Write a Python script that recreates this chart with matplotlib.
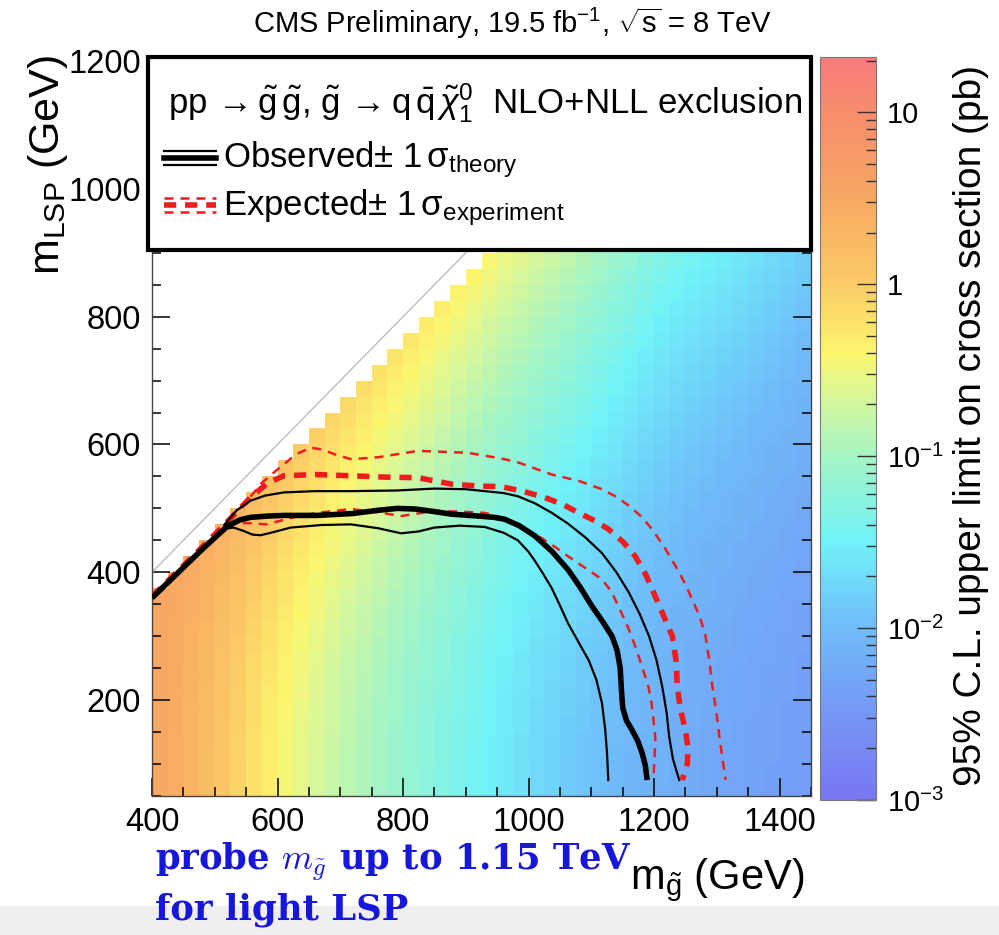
import numpy as np
import matplotlib
matplotlib.use("Agg")
import matplotlib.pyplot as plt
from matplotlib.colors import LinearSegmentedColormap, LogNorm
from matplotlib.patches import Rectangle
from matplotlib.ticker import MultipleLocator, FixedLocator, FixedFormatter, LogLocator

plt.rcParams['font.family'] = ['Liberation Sans', 'DejaVu Sans']
plt.rcParams['mathtext.fontset'] = 'custom'
plt.rcParams['mathtext.rm'] = 'Liberation Sans'
plt.rcParams['mathtext.it'] = 'Liberation Sans:italic'
plt.rcParams['mathtext.bf'] = 'Liberation Sans:bold'
plt.rcParams['mathtext.sf'] = 'Liberation Sans'

## scan binning (25 GeV cells) ##
x_edges = np.arange(400, 1451, 25)
y_edges = np.arange(50, 1201, 25)

# log10 of the 95% CL limit (pb) in each gluino column, at the lowest LSP mass
base_log = [0.50, 0.42, 0.32, 0.20, 0.06, -0.08, -0.22, -0.34, -0.45, -0.56,
            -0.66, -0.76, -0.85, -0.93, -1.01, -1.09, -1.16, -1.23, -1.30, -1.37,
            -1.44, -1.51, -1.58, -1.65, -1.72, -1.78, -1.84, -1.90, -1.96, -2.01,
            -2.06, -2.10, -2.14, -2.18, -2.22, -2.25, -2.28, -2.31, -2.34, -2.36,
            -2.38, -2.40]
# log10 of the limit at the top of each column (diagonal, or mLSP = 900 GeV)
top_log = [0.55, 0.50, 0.45, 0.40, 0.34, 0.27, 0.20, 0.12, 0.05, 0.00,
           -0.05, -0.10, -0.14, -0.18, -0.22, -0.25, -0.28, -0.31, -0.34, -0.37,
           -0.40, -0.43, -0.49, -0.56, -0.65, -0.72, -0.80, -0.88, -0.97, -1.06,
           -1.15, -1.24, -1.32, -1.38, -1.43, -1.48, -1.53, -1.58, -1.64, -1.70,
           -1.76, -1.82]

## exclusion contours (GeV) ##
obs_x = [400, 440, 480, 520, 540, 557, 585, 610, 663, 720, 760, 791, 820, 850,
         877, 920, 945, 962, 985, 1010, 1037, 1063, 1082, 1101, 1118, 1133,
         1141, 1146, 1148, 1150, 1156, 1165, 1174, 1181, 1186, 1189]
obs_y = [360, 398, 436, 472, 482, 486, 488, 489, 489, 492, 497, 500, 499, 495,
         491, 488, 486, 483, 473, 457, 433, 404, 377, 347, 323, 300,
         278, 250, 215, 188, 168, 153, 136, 117, 98, 75]
obs_up_x = [515, 535, 557, 580, 610, 660, 717, 790, 850, 900, 930, 960, 983,
            1010, 1037, 1063, 1090, 1117, 1140, 1160, 1177, 1192, 1204, 1213,
            1220, 1224, 1230, 1240]
obs_up_y = [474, 497, 512, 520, 525, 527, 527, 528, 531, 530, 527, 524, 519,
            508, 493, 476, 455, 430, 400, 368, 335, 300, 262, 221,
            180, 143, 108, 75]
obs_dn_x = [515, 530, 545, 560, 573, 590, 621, 670, 717, 760, 797, 825, 850,
            890, 930, 960, 983, 1000, 1010, 1023, 1037, 1050, 1063, 1080, 1096,
            1108, 1117, 1122, 1125, 1127]
obs_dn_y = [468, 470, 465, 459, 458, 462, 470, 474, 475, 469, 461, 464, 470,
            473, 471, 462, 450, 432, 418, 398, 375, 348, 320, 290, 262,
            232, 195, 155, 117, 75]

exp_x = [400, 460, 519, 540, 560, 585, 610, 660, 717, 770, 824, 877, 920, 957,
         990, 1026, 1055, 1080, 1105, 1128, 1150, 1170, 1187, 1202, 1216, 1229,
         1235, 1237, 1242, 1250, 1254, 1253, 1245]
exp_y = [362, 420, 478, 500, 520, 540, 551, 553, 551, 549, 548, 538, 535, 534,
         527, 517, 506, 493, 481, 467, 448, 425, 396, 362, 330, 300,
         262, 221, 185, 153, 125, 101, 75]
exp_dn_x = [519, 551, 583, 625, 663, 717, 760, 797, 850, 890, 930, 960, 983,
            1010, 1036, 1063, 1090, 1117, 1132, 1143, 1158, 1170, 1181, 1191,
            1196, 1199, 1202, 1201, 1199]
exp_dn_y = [478, 477, 475, 486, 493, 499, 494, 488, 496, 495, 493, 485, 472,
            460, 444, 425, 407, 389, 370, 347, 315, 284, 252, 221,
            195, 169, 140, 117, 78]
exp_up_x = [540, 560, 575, 600, 630, 653, 672, 690, 717, 760, 824, 903, 957,
            983, 1037, 1080, 1117, 1140, 1160, 1180, 1197, 1216, 1234, 1249,
            1261, 1273, 1282, 1288, 1293, 1299, 1304, 1309, 1314]
exp_up_y = [500, 522, 540, 561, 585, 595, 592, 585, 577, 580, 590, 587, 578,
            572, 553, 543, 530, 518, 504, 487, 467, 440, 410, 383,
            357, 330, 300, 262, 221, 182, 143, 108, 75]

cbar_ticks = [1e-3, 1e-2, 1e-1, 1, 10]
cbar_labels = [r'10$^{\mathregular{-3}}$', r'10$^{\mathregular{-2}}$',
               r'10$^{\mathregular{-1}}$', '1', '10']

# pastel rainbow palette, anchored in log10(pb)
palette = [(-3.0, '#7877f0'), (-2.5, '#7597f6'), (-2.0, '#6fbcf9'),
           (-1.5, '#70f2f8'), (-1.0, '#a5f5c4'), (-0.65, '#d8f79a'),
           (-0.4, '#fbf66e'), (0.0, '#fbcb66'), (0.5, '#f7a862'),
           (1.0, '#f78d6c'), (1.322, '#f77b7b')]
lo, hi = palette[0][0], palette[-1][0]
cmap = LinearSegmentedColormap.from_list(
    'limits', [((v - lo) / (hi - lo), c) for v, c in palette])

W, H = 999, 935
def fx(px):
    return px / W
def fy(py):
    return 1 - py / H

fig = plt.figure(figsize=(W / 100, H / 100), dpi=100)
fig.patches.append(Rectangle((0, 0), 1, fy(906), transform=fig.transFigure,
                             color='#efefef', zorder=0))
ax = fig.add_axes([fx(152), fy(796), fx(811) - fx(152), fy(61) - fy(796)])
cax = fig.add_axes([fx(820), fy(800), fx(876) - fx(820), fy(57) - fy(800)])

# build the limit map column by column
xc = 0.5 * (x_edges[:-1] + x_edges[1:])
yc = 0.5 * (y_edges[:-1] + y_edges[1:])
z = np.full((len(yc), len(xc)), np.nan)
for i, mg in enumerate(xc):
    ytop = min(mg - 50, 900)
    for j, ml in enumerate(yc):
        if y_edges[j] > x_edges[i] - 50:
            continue
        w = np.clip((ml - 50) / (ytop - 50), 0, None) ** 2
        z[j, i] = 10 ** (base_log[i] + (top_log[i] - base_log[i]) * w)
z = np.ma.masked_invalid(z)

mesh = ax.pcolormesh(x_edges, y_edges, z, cmap=cmap,
                     norm=LogNorm(vmin=1e-3, vmax=10 ** hi), zorder=1)

# mLSP = mgluino line
ax.plot([400, 1200], [400, 1200], color='#bdbdbd', lw=1.0, zorder=2)

red = '#ee1c1c'
thin_dash = (3.6, 2.8)
thick_dash = (2.2, 1.6)
ax.plot(exp_up_x, exp_up_y, color=red, lw=1.8, dashes=thin_dash, zorder=3)
ax.plot(exp_dn_x, exp_dn_y, color=red, lw=1.8, dashes=thin_dash, zorder=3)
ax.plot(exp_x, exp_y, color=red, lw=4.0, dashes=thick_dash, zorder=3)
ax.plot(obs_up_x, obs_up_y, color='black', lw=1.6, zorder=4)
ax.plot(obs_dn_x, obs_dn_y, color='black', lw=1.6, zorder=4)
ax.plot(obs_x, obs_y, color='black', lw=4.0, solid_capstyle='butt',
        solid_joinstyle='round', zorder=5)

ax.set_xlim(400, 1450)
ax.set_ylim(50, 1200)
ax.xaxis.set_major_locator(MultipleLocator(200))
ax.xaxis.set_minor_locator(MultipleLocator(50))
ax.yaxis.set_major_locator(MultipleLocator(200))
ax.yaxis.set_minor_locator(MultipleLocator(50))
ax.tick_params(which='both', direction='in', top=True, right=True,
               color='black', width=1.1, labelsize=23.5)
ax.tick_params(which='major', length=13)
ax.tick_params(which='minor', length=6.5)
ax.tick_params(axis='x', pad=8)
ax.tick_params(axis='y', pad=8)
for s in ax.spines.values():
    s.set_linewidth(1.0)
    s.set_color('#444444')

# legend panel
ax.add_patch(Rectangle((-0.006, 0.743), 1.006, 0.262, transform=ax.transAxes,
                       facecolor='white', edgecolor='black', lw=3,
                       clip_on=False, zorder=10))
fig.text(fx(168), fy(103),
         r'pp$\,\rightarrow\tilde{\mathrm{g}}\,\tilde{\mathrm{g}}$, '
         r'$\tilde{\mathrm{g}}\,\rightarrow$q$\,\bar{\mathrm{q}}\,'
         r'\tilde{\chi}^{\mathregular{0}}_{\mathregular{1}}$  NLO+NLL exclusion',
         fontsize=25, va='center', ha='left', zorder=12)
fig.text(fx(223), fy(160), r'Observed$\pm$ 1$\,$σ$_{\mathregular{theory}}$',
         fontsize=25, va='center', ha='left', zorder=12)
fig.text(fx(223), fy(208), r'Expected$\pm$ 1$\,$σ$_{\mathregular{experiment}}$',
         fontsize=25, va='center', ha='left', zorder=12)
for dy, lw in [(-7, 1.6), (0, 4.0), (7, 1.6)]:
    fig.add_artist(plt.Line2D([fx(164), fx(216)], [fy(158 + dy)] * 2,
                              color='black', lw=lw, zorder=12))
for dy, lw, d in [(-7, 1.8, thin_dash), (0, 4.0, thick_dash), (7, 1.8, thin_dash)]:
    fig.add_artist(plt.Line2D([fx(164), fx(216)], [fy(205 + dy)] * 2,
                              color=red, lw=lw, dashes=d, zorder=12))

# colour scale
cb = fig.colorbar(mesh, cax=cax)
cb.outline.set_linewidth(0.8)
cb.outline.set_edgecolor('#777777')
cax.yaxis.set_major_locator(FixedLocator(cbar_ticks))
cax.yaxis.set_major_formatter(FixedFormatter(cbar_labels))
cax.yaxis.set_minor_locator(LogLocator(base=10, subs=np.arange(2, 10)))
cax.tick_params(which='both', direction='in', right=True, left=False,
                color='#333333', width=1.0, labelsize=21, pad=8)
cax.tick_params(which='major', length=14)
cax.tick_params(which='minor', length=7)

# titles and axis labels
fig.text(fx(513), fy(23), r'CMS Preliminary, 19.5 fb$^{\mathregular{-1}}$, '
         r'$\sqrt{\mathregular{s}}$ = 8 TeV', fontsize=21,
         ha='center', va='center')
fig.text(fx(48), fy(55), r'm$_{\mathregular{LSP}}$ (GeV)', fontsize=31,
         rotation=90, ha='center', va='top')
fig.text(fx(804), fy(880), r'm$_{\tilde{\mathrm{g}}}$ (GeV)', fontsize=30,
         ha='right', va='center')
fig.text(fx(971), fy(425), '95% C.L. upper limit on cross section (pb)',
         fontsize=28, rotation=90, ha='center', va='center')

# comment on the reach
blue = '#1616dc'
fig.text(fx(155), fy(862), r'probe $m_{\tilde{g}}$ up to 1.15 TeV',
         family='DejaVu Serif', weight='bold', color=blue, fontsize=25.5,
         math_fontfamily='cm', ha='left', va='center')
fig.text(fx(155), fy(910), 'for light LSP', family='DejaVu Serif',
         weight='bold', color=blue, fontsize=25.5, ha='left', va='center')

fig.savefig('out.png', dpi=100)
